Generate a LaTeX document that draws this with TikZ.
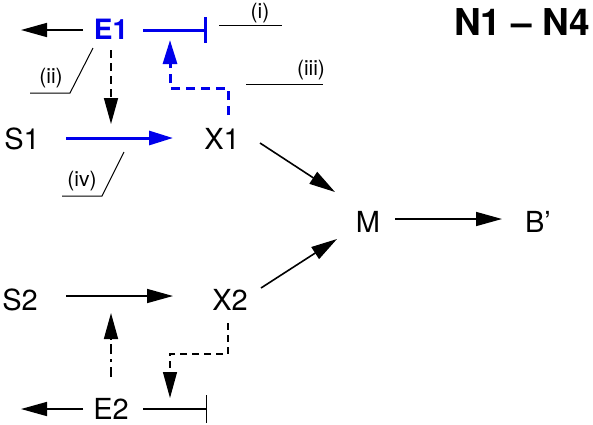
\documentclass[tikz,border=0pt]{standalone}
\usepackage{fontspec}
\setmainfont{TeX Gyre Heros}
\usetikzlibrary{arrows.meta,calc}
\definecolor{myblue}{RGB}{0,0,235}
\tikzset{
  lbl/.style={inner sep=0pt,font=\fontsize{29}{30}\selectfont},
  small/.style={inner sep=0pt,font=\fontsize{21}{22}\selectfont},
  arr/.style={line width=1.6pt,-{Triangle[length=26pt,width=14pt]}},
  barr/.style={line width=3pt,myblue,-{Triangle[length=24pt,width=14pt]}},
  inh/.style={line width=1.4pt,-{Bar[width=28pt,line width=1.4pt]}},
  binh/.style={line width=3pt,myblue,-{Bar[width=26pt,line width=3pt]}},
  lead/.style={line width=1pt},
}
\begin{document}
\begin{tikzpicture}[x=1pt,y=-1pt]
\useasboundingbox (0,0) rectangle (593,424);
% nodes
\node[lbl,myblue,font=\fontsize{28}{30}\selectfont\bfseries] (E1) at (111,29) {E1};
\node[lbl] (S1) at (22,139) {S1};
\node[lbl] (X1) at (222,139) {X1};
\node[lbl] (M) at (368,222) {M};
\node[lbl] (B) at (538,222) {B’};
\node[lbl] (S2) at (20,300) {S2};
\node[lbl] (X2) at (230,300) {X2};
\node[lbl] (E2) at (111,408.5) {E2};
\node[inner sep=0pt,font=\fontsize{37}{38}\selectfont\bfseries] (N) at (522,22) {N1 – N4};
\node[small] (li) at (260,13) {(i)};
\node[small] (lii) at (51,78) {(ii)};
\node[small] (liii) at (311,70) {(iii)};
\node[small] (liv) at (82,181) {(iv)};
% free ends
\coordinate (e1l) at (21,30);
\coordinate (e1r) at (207,30);
\coordinate (e2l) at (21,409);
\coordinate (e2r) at (207,409);
% top part
\draw[arr] ($(E1)+(-28,1)$) -- (e1l);
\draw[binh] ($(E1)+(32,1)$) -- (e1r);
\draw[arr,dash pattern=on 8pt off 5pt] ($(E1)+(0,21)$) -- ($(S1)!0.5!(X1)+(-11,-15)$);
\draw[barr,dash pattern=on 9pt off 6pt] ($(X1)+(6,-24)$) |- ($(E1)+(59,59)$) -- ($(E1)+(59,11)$);
\draw[barr] ($(S1)+(44,-1)$) -- ($(X1)+(-49,-1)$);
\draw[arr] ($(X1)+(38,4)$) -- ($(M)+(-33,-30)$);
\draw[arr] ($(M)+(27,-3)$) -- ($(B)+(-36,-3)$);
% bottom part
\draw[arr] ($(S2)+(46,-4)$) -- ($(X2)+(-57,-4)$);
\draw[arr] ($(X2)+(31,-12)$) -- ($(M)+(-31,17)$);
\draw[arr,dash pattern=on 10pt off 5pt on 3pt off 5pt] ($(E2)+(0,-31.5)$) -- ($(S2)!0.5!(X2)+(-14,13)$);
\draw[arr,dash pattern=on 7pt off 5pt,line width=1.2pt] ($(X2)+(-2,23)$) |- ($(E2)+(59,-54.5)$) -- ($(E2)+(59,-10.5)$);
\draw[arr] ($(E2)+(-28,0.5)$) -- (e2l);
\draw[inh] ($(E2)+(32,0.5)$) -- (e2r);
% leader lines
\draw[lead] (219,25) -- (282,25);
\draw[lead] (246,84) -- (323,84);
\draw[lead] (93,48) -- (70,93) -- (30,93);
\draw[lead] (124,152) -- (102,196) -- (62,196);
\end{tikzpicture}
\end{document}
